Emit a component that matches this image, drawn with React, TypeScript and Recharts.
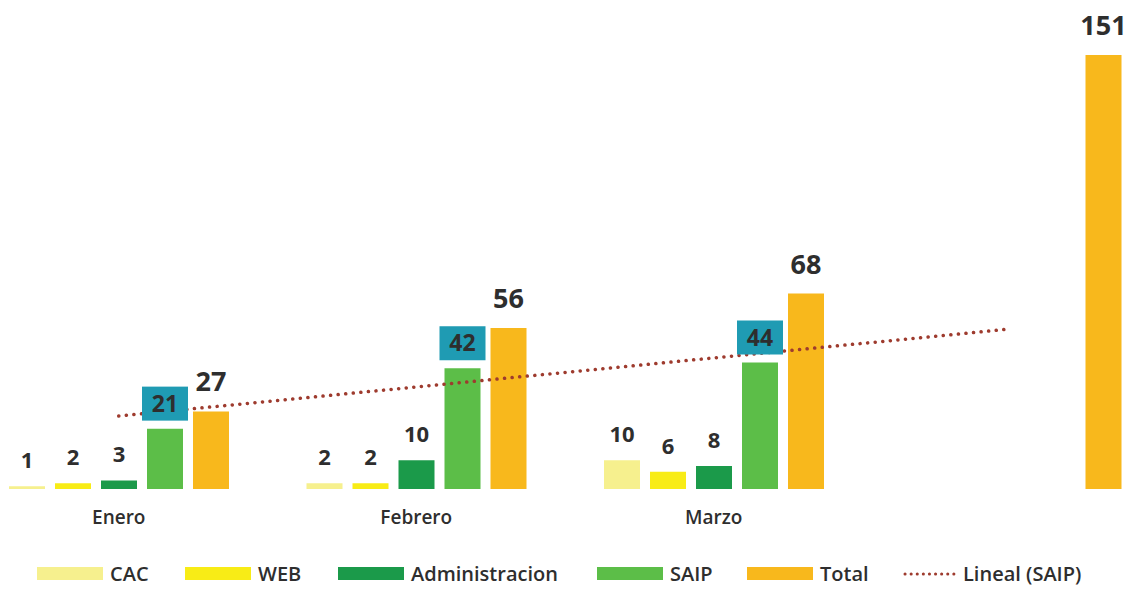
import { Bar, ComposedChart, LabelList, Legend, Line, XAxis, YAxis } from "recharts";

const months = ["Enero", "Febrero", "Marzo", ""];
const cac = [1, 2, 10, null];
const web = [2, 2, 6, null];
const admin = [3, 10, 8, null];
const saip = [21, 42, 44, null];
const total = [27, 56, 68, 151];
// dotted linear trend of SAIP at each category centre
const trendSaip = [25.4, 35.5, 45.6, 55.7];

const seriesNames = ["CAC", "WEB", "Administracion", "SAIP", "Total", "Lineal (SAIP)"];

const data = months.map((month, i) => ({
  month,
  cac: cac[i],
  web: web[i],
  admin: admin[i],
  saip: saip[i],
  total: total[i],
  trend: trendSaip[i],
}));

const SHIFT = 30;
const FONT = '"Open Sans", "Liberation Sans", sans-serif';
const INK = "#2e2e2e";

const COLORS = {
  cac: "#f6f08e",
  web: "#f8ec16",
  admin: "#1b9a4a",
  saip: "#5cbe48",
  total: "#f8b81c",
  box: "#1f9bb3",
  trend: "#9e3b2e",
};

const valueLabel = (size: number, lift: number) => (props: any) => {
  const { x, y, width, value } = props;
  if (value == null) return null;
  return (
    <text
      x={Number(x) + Number(width) / 2}
      y={Number(y) - lift}
      textAnchor="middle"
      fontSize={size}
      fontWeight={700}
      fill={INK}
      fontFamily={FONT}
    >
      {value}
    </text>
  );
};

const saipLabel = (props: any) => {
  const { x, y, width, value } = props;
  if (value == null) return null;
  const cx = Number(x) + Number(width) / 2;
  const bottom = Number(y) - 8;
  const h = 34;
  return (
    <g>
      <rect x={cx - 23} y={bottom - h} width={46} height={h} fill={COLORS.box} />
      <text
        x={cx}
        y={bottom - h / 2 + 8}
        textAnchor="middle"
        fontSize={23}
        fontWeight={700}
        fill={INK}
        fontFamily={FONT}
      >
        {value}
      </text>
    </g>
  );
};

// page x of each legend swatch
const legendLeft = [37, 185, 338, 597, 747, 903];

const LegendContent = (props: any) => {
  const items = [...(props.payload || [])].sort(
    (a: any, b: any) => seriesNames.indexOf(a.value) - seriesNames.indexOf(b.value)
  );
  return (
    <div style={{ position: "relative", height: 0 }}>
      {items.map((item: any, i: number) => {
        const isLine = item.type === "line";
        return (
          <div
            key={item.value}
            style={{
              position: "absolute",
              left: legendLeft[i] + SHIFT,
              top: 0,
              display: "flex",
              alignItems: "center",
              whiteSpace: "nowrap",
              fontFamily: FONT,
              fontSize: 20,
              fontWeight: 600,
              color: INK,
            }}
          >
            {isLine ? (
              <svg width={54} height={14} style={{ marginRight: 6 }}>
                <line
                  x1={2}
                  y1={7}
                  x2={52}
                  y2={7}
                  stroke={COLORS.trend}
                  strokeWidth={3}
                  strokeDasharray="0.1 6"
                  strokeLinecap="round"
                />
              </svg>
            ) : (
              <div style={{ width: 66, height: 13, background: item.color, marginRight: 7 }} />
            )}
            <span>{item.value}</span>
          </div>
        );
      })}
    </div>
  );
};

export default function App() {
  return (
    <div
      style={{
        position: "absolute",
        left: 0,
        top: 0,
        width: 1135,
        height: 589,
        overflow: "hidden",
        background: "#fff",
      }}
    >
      <div style={{ position: "absolute", left: -SHIFT, top: 0 }}>
        <ComposedChart
          width={1190}
          height={589}
          data={data}
          margin={{ top: 29, right: 0, left: 0, bottom: 0 }}
          barSize={36}
          barGap={10}
        >
          <XAxis
            dataKey="month"
            axisLine={false}
            tickLine={false}
            interval={0}
            height={100}
            tickMargin={16}
            tick={{ fill: INK, fontSize: 19, fontWeight: 600, fontFamily: FONT }}
          />
          <YAxis hide domain={[0, 160]} />
          <Legend
            content={<LegendContent />}
            wrapperStyle={{ left: 0, top: 560, bottom: "auto", width: 1190, height: 0 }}
          />
          <Bar dataKey="cac" name="CAC" fill={COLORS.cac} isAnimationActive={false}>
            <LabelList dataKey="cac" content={valueLabel(22, 18)} />
          </Bar>
          <Bar dataKey="web" name="WEB" fill={COLORS.web} isAnimationActive={false}>
            <LabelList dataKey="web" content={valueLabel(22, 18)} />
          </Bar>
          <Bar dataKey="admin" name="Administracion" fill={COLORS.admin} isAnimationActive={false}>
            <LabelList dataKey="admin" content={valueLabel(22, 18)} />
          </Bar>
          <Bar dataKey="saip" name="SAIP" fill={COLORS.saip} isAnimationActive={false}>
            <LabelList dataKey="saip" content={saipLabel} />
          </Bar>
          <Bar dataKey="total" name="Total" fill={COLORS.total} isAnimationActive={false}>
            <LabelList dataKey="total" content={valueLabel(27, 20)} />
          </Bar>
          <Line
            type="linear"
            dataKey="trend"
            name="Lineal (SAIP)"
            stroke={COLORS.trend}
            strokeWidth={3.5}
            strokeDasharray="0.1 7.5"
            strokeLinecap="round"
            dot={false}
            activeDot={false}
            isAnimationActive={false}
          />
        </ComposedChart>
      </div>
    </div>
  );
}
